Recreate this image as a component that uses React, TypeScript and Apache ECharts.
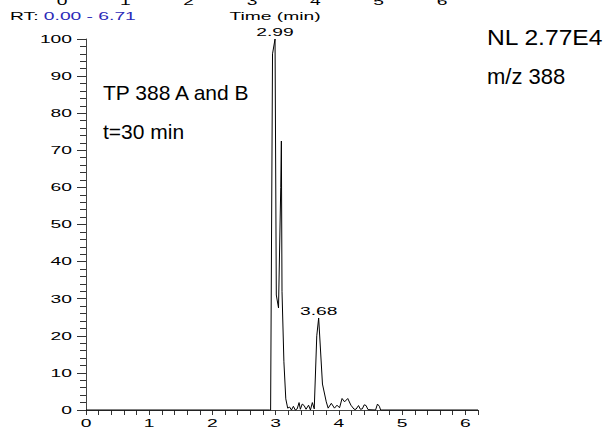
import React, { useEffect, useRef } from "react";
import * as echarts from "echarts";

// Chromatogram trace: retention time (min) and relative abundance (%)
const timeMin = [
  0, 2.9, 2.92, 2.95, 2.99, 3.01, 3.045, 3.08, 3.09, 3.1, 3.13, 3.16, 3.19, 3.22, 3.25, 3.28, 3.31, 3.34,
  3.37, 3.39, 3.42, 3.45, 3.48, 3.52, 3.55, 3.58, 3.61, 3.65, 3.68, 3.74, 3.8, 3.83, 3.88, 3.93,
  3.97, 4.01, 4.05, 4.09, 4.14, 4.19, 4.24, 4.27, 4.31, 4.34, 4.37, 4.4, 4.43, 4.46, 4.58, 4.61,
  4.64, 4.66, 6.2,
];
const abundance = [
  0, 0, 0, 96, 100, 31, 27.5, 60, 72.5, 32, 13, 3, 0.5, 0.8, 0, 1, 0, 0.3,
  2, 0.2, 1.6, 1.2, 0.2, 1.3, 0, 2, 0.3, 20, 24.8, 7, 2.2, 0.5, 1.8, 0.5,
  1.3, 0.6, 3.1, 2.2, 3.1, 1.3, 0.2, 0.2, 1.2, 0.2, 0.3, 1.4, 1.2, 0.1, 0, 1.6,
  1.0, 0, 0,
];
const xTickLabels = [0, 1, 2, 3, 4, 5, 6];
const yTickLabels = [0, 10, 20, 30, 40, 50, 60, 70, 80, 90, 100];
const topTickLabels = [0, 1, 2, 3, 4, 5, 6];
const peakTimes = [2.99, 3.68];
const peakHeights = [100, 24.8];

const SMALL_FONT = '11px "Liberation Sans", Arial, sans-serif';
const SX = 1.75;

export default function App() {
  const ref = useRef<HTMLDivElement>(null);
  useEffect(() => {
    if (!ref.current) return;
    const chart = echarts.init(ref.current, null, { renderer: "svg" });
    const data = timeMin.map((t, i) => [t, abundance[i]]);
    chart.setOption({
      animation: false,
      grid: [
        { left: 86, top: 39, right: 137, bottom: 21 },
        { left: 62, top: 0, right: 173, height: 1 },
      ],
      xAxis: [
        {
          type: "value",
          gridIndex: 0,
          min: 0,
          max: 6.2,
          interval: 0.2,
          axisLine: { show: true, lineStyle: { color: "#444", width: 1 } },
          axisTick: { show: true, length: 5, lineStyle: { color: "#333" } },
          axisLabel: { show: false },
          splitLine: { show: false },
        },
        {
          type: "value",
          gridIndex: 1,
          min: 0,
          max: 6,
          show: false,
        },
      ],
      yAxis: [
        {
          type: "value",
          gridIndex: 0,
          min: 0,
          max: 100,
          interval: 10,
          axisLine: { show: true, lineStyle: { color: "#444", width: 1 } },
          axisTick: { show: true, length: 9, lineStyle: { color: "#333" } },
          minorTick: { show: true, splitNumber: 5, length: 6, lineStyle: { color: "#333" } },
          axisLabel: { show: false },
          splitLine: { show: false },
        },
        { type: "value", gridIndex: 1, show: false },
      ],
      series: [
        {
          type: "line",
          xAxisIndex: 0,
          yAxisIndex: 0,
          data,
          showSymbol: false,
          clip: false,
          lineStyle: { color: "#000", width: 1 },
          z: 5,
        },
      ],
    });

    const g: any[] = [];
    xTickLabels.forEach((v) => {
      const p = chart.convertToPixel({ gridIndex: 0 }, [v, 0]) as number[];
      g.push({
        type: "text",
        x: p[0],
        y: p[1] + 13,
        scaleX: SX,
        style: { text: String(v), font: SMALL_FONT, align: "center", verticalAlign: "middle", fill: "#000" },
      });
    });
    yTickLabels.forEach((v) => {
      const p = chart.convertToPixel({ gridIndex: 0 }, [0, v]) as number[];
      g.push({
        type: "text",
        x: p[0] - 14,
        y: p[1],
        scaleX: SX,
        style: { text: String(v), font: SMALL_FONT, align: "right", verticalAlign: "middle", fill: "#000" },
      });
    });
    topTickLabels.forEach((v) => {
      const px = chart.convertToPixel({ xAxisIndex: 1 }, v) as number;
      g.push({
        type: "text",
        x: px,
        y: 1,
        scaleX: SX,
        style: { text: String(v), font: SMALL_FONT, align: "center", verticalAlign: "middle", fill: "#000" },
      });
    });
    peakTimes.forEach((t, i) => {
      const p = chart.convertToPixel({ gridIndex: 0 }, [t, peakHeights[i]]) as number[];
      g.push({
        type: "text",
        x: p[0],
        y: p[1] - 6.5,
        scaleX: SX,
        style: { text: t.toFixed(2), font: SMALL_FONT, align: "center", verticalAlign: "middle", fill: "#000" },
      });
    });
    g.push({
      type: "text",
      x: 10,
      y: 16,
      scaleX: SX,
      style: {
        text: "{a|RT:} {b|0.00 - 6.71}",
        font: SMALL_FONT,
        align: "left",
        verticalAlign: "middle",
        rich: {
          a: { fill: "#000", font: SMALL_FONT },
          b: { fill: "#2a2ab8", font: SMALL_FONT },
        },
      },
    });
    g.push({
      type: "text",
      x: 275,
      y: 16,
      scaleX: SX,
      style: { text: "Time (min)", font: SMALL_FONT, align: "center", verticalAlign: "middle", fill: "#000" },
    });
    const BIG = '21px "Liberation Sans", Arial, sans-serif';
    g.push({
      type: "text",
      x: 103,
      y: 92,
      style: { text: "TP 388 A and B", font: BIG, align: "left", verticalAlign: "middle", fill: "#000" },
    });
    g.push({
      type: "text",
      x: 103,
      y: 131,
      style: { text: "t=30 min", font: BIG, align: "left", verticalAlign: "middle", fill: "#000" },
    });
    const BIG2 = '22px "Liberation Sans", Arial, sans-serif';
    g.push({
      type: "text",
      x: 487,
      y: 37,
      scaleX: 1.12,
      style: { text: "NL 2.77E4", font: BIG2, align: "left", verticalAlign: "middle", fill: "#000" },
    });
    g.push({
      type: "text",
      x: 487,
      y: 76,
      style: { text: "m/z 388", font: BIG2, align: "left", verticalAlign: "middle", fill: "#000" },
    });
    chart.setOption({ graphic: g });

    return () => chart.dispose();
  }, []);
  return (
    <div
      ref={ref}
      style={{ position: "absolute", left: 0, top: 0, width: 615, height: 431 }}
    />
  );
}
